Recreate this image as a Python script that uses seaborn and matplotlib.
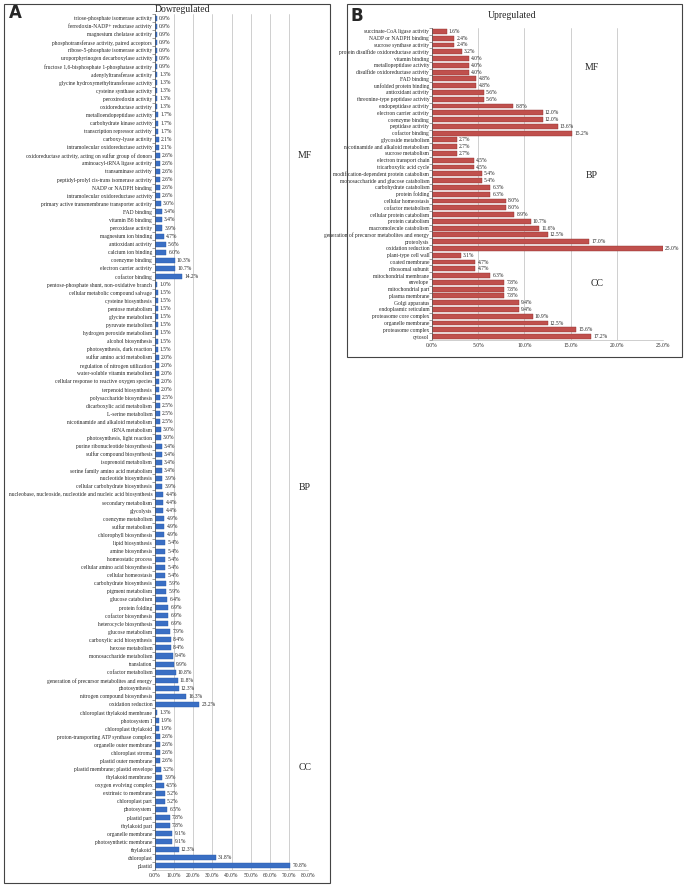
import matplotlib
matplotlib.use("Agg")
import matplotlib.pyplot as plt
import seaborn as sns
import pandas as pd
import numpy as np
from matplotlib.patches import Rectangle
from matplotlib.ticker import FixedLocator

# ---------------- Data: Panel A (Downregulated) ----------------
down_mf_terms = [
    "triose-phosphate isomerase activity", "ferredoxin-NADP+ reductase activity",
    "magnesium chelatase activity", "phosphotransferase activity, paired acceptors",
    "ribose-5-phosphate isomerase activity", "uroporphyrinogen decarboxylase activity",
    "fructose 1,6-bisphosphate 1-phosphatase activity", "adenylyltransferase activity",
    "glycine hydroxymethyltransferase activity", "cysteine synthase activity",
    "peroxiredoxin activity", "oxidoreductase activity", "metalloendopeptidase activity",
    "carbohydrate kinase activity", "transcription repressor activity", "carboxy-lyase activity",
    "intramolecular oxidoreductase activity",
    "oxidoreductase activity, acting on sulfur group of donors", "aminoacyl-tRNA ligase activity",
    "transaminase activity", "peptidyl-prolyl cis-trans isomerase activity",
    "NADP or NADPH binding", "intramolecular oxidoreductase activity",
    "primary active transmembrane transporter activity", "FAD binding", "vitamin B6 binding",
    "peroxidase activity", "magnesium ion binding", "antioxidant activity",
    "calcium ion binding", "coenzyme binding", "electron carrier activity", "cofactor binding",
]
down_mf_vals = [0.9, 0.9, 0.9, 0.9, 0.9, 0.9, 0.9, 1.3, 1.3, 1.3, 1.3, 1.3, 1.7, 1.7, 1.7,
                2.1, 2.1, 2.6, 2.6, 2.6, 2.6, 2.6, 2.6, 3.0, 3.4, 3.4, 3.9, 4.7, 5.6, 6.0,
                10.3, 10.7, 14.2]

down_bp_terms = [
    "pentose-phosphate shunt, non-oxidative branch", "cellular metabolic compound salvage",
    "cysteine biosynthesis", "pentose metabolism", "glycine metabolism", "pyruvate metabolism",
    "hydrogen peroxide metabolism", "alcohol biosynthesis", "photosynthesis, dark reaction",
    "sulfur amino acid metabolism", "regulation of nitrogen utilization",
    "water-soluble vitamin metabolism", "cellular response to reactive oxygen species",
    "terpenoid biosynthesis", "polysaccharide biosynthesis", "dicarboxylic acid metabolism",
    "L-serine metabolism", "nicotinamide and alkaloid metabolism", "tRNA metabolism",
    "photosynthesis, light reaction", "purine ribonucleotide biosynthesis",
    "sulfur compound biosynthesis", "isoprenoid metabolism",
    "serine family amino acid metabolism", "nucleotide biosynthesis",
    "cellular carbohydrate biosynthesis",
    "nucleobase, nucleoside, nucleotide and nucleic acid biosynthesis",
    "secondary metabolism", "glycolysis", "coenzyme metabolism", "sulfur metabolism",
    "chlorophyll biosynthesis", "lipid biosynthesis", "amine biosynthesis",
    "homeostatic process", "cellular amino acid biosynthesis", "cellular homeostasis",
    "carbohydrate biosynthesis", "pigment metabolism", "glucose catabolism", "protein folding",
    "cofactor biosynthesis", "heterocycle biosynthesis", "glucose metabolism",
    "carboxylic acid biosynthesis", "hexose metabolism", "monosaccharide metabolism",
    "translation", "cofactor metabolism", "generation of precursor metabolites and energy",
    "photosynthesis", "nitrogen compound biosynthesis", "oxidation reduction",
]
down_bp_vals = [1.0, 1.5, 1.5, 1.5, 1.5, 1.5, 1.5, 1.5, 1.5, 2.0, 2.0, 2.0, 2.0, 2.0,
                2.5, 2.5, 2.5, 2.5, 3.0, 3.0, 3.4, 3.4, 3.4, 3.4, 3.9, 3.9, 4.4, 4.4, 4.4,
                4.9, 4.9, 4.9, 5.4, 5.4, 5.4, 5.4, 5.4, 5.9, 5.9, 6.4, 6.9, 6.9, 6.9, 7.9,
                8.4, 8.4, 9.4, 9.9, 10.8, 11.8, 12.3, 16.3, 23.2]

down_cc_terms = [
    "chloroplast thylakoid membrane", "photosystem I", "chloroplast thylakoid",
    "proton-transporting ATP synthase complex", "organelle outer membrane",
    "chloroplast stroma", "plastid outer membrane", "plastid membrane; plastid envelope",
    "thylakoid membrane", "oxygen evolving complex", "extrinsic to membrane",
    "chloroplast part", "photosystem", "plastid part", "thylakoid part",
    "organelle membrane", "photosynthetic membrane", "thylakoid", "chloroplast", "plastid",
]
down_cc_vals = [1.3, 1.9, 1.9, 2.6, 2.6, 2.6, 2.6, 3.2, 3.9, 4.5, 5.2, 5.2, 6.5, 7.8, 7.8,
                9.1, 9.1, 12.3, 31.8, 70.8]

# ---------------- Data: Panel B (Upregulated) ----------------
up_mf_terms = [
    "succinate-CoA ligase activity", "NADP or NADPH binding", "sucrose synthase activity",
    "protein disulfide oxidoreductase activity", "vitamin binding",
    "metallopeptidase activity", "disulfide oxidoreductase activity", "FAD binding",
    "unfolded protein binding", "antioxidant activity", "threonine-type peptidase activity",
    "endopeptidase activity", "electron carrier activity", "coenzyme binding",
    "peptidase activity", "cofactor binding",
]
up_mf_vals = [1.6, 2.4, 2.4, 3.2, 4.0, 4.0, 4.0, 4.8, 4.8, 5.6, 5.6, 8.8, 12.0, 12.0, 13.6, 15.2]

up_bp_terms = [
    "glycoside metabolism", "nicotinamide and alkaloid metabolism", "sucrose metabolism",
    "electron transport chain", "tricarboxylic acid cycle",
    "modification-dependent protein catabolism", "monosaccharide and glucose catabolism",
    "carbohydrate catabolism", "protein folding", "cellular homeostasis",
    "cofactor metabolism", "cellular protein catabolism", "protein catabolism",
    "macromolecule catabolism", "generation of precursor metabolites and energy",
    "proteolysis", "oxidation reduction",
]
up_bp_vals = [2.7, 2.7, 2.7, 4.5, 4.5, 5.4, 5.4, 6.3, 6.3, 8.0, 8.0, 8.9, 10.7, 11.6, 12.5,
              17.0, 25.0]

up_cc_terms = [
    "plant-type cell wall", "coated membrane", "ribosomal subunit", "mitochondrial membrane",
    "envelope", "mitochondrial part", "plasma membrane", "Golgi apparatus",
    "endoplasmic reticulum", "proteasome core complex", "organelle membrane",
    "proteasome complex", "cytosol",
]
up_cc_vals = [3.1, 4.7, 4.7, 6.3, 7.8, 7.8, 7.8, 9.4, 9.4, 10.9, 12.5, 15.6, 17.2]

down_xticks = [0, 10, 20, 30, 40, 50, 60, 70, 80]
up_xticks = [0, 5, 10, 15, 20, 25]

# ---------------- Styling ----------------
sns.set_theme(style="white")
plt.rcParams["font.family"] = ["Liberation Serif", "DejaVu Serif"]

W, H = 685, 890
fig = plt.figure(figsize=(W / 100, H / 100), dpi=100)


def fx(px):
    return px / W


def fy(py):
    return 1 - py / H


def make_df(term_lists, val_lists):
    terms = sum(term_lists, [])
    vals = sum(val_lists, [])
    return pd.DataFrame({"id": [f"r{i:03d}" for i in range(len(terms))],
                         "term": terms, "value": vals})


def draw_panel(ax, df, color, edge, xmax, xticks, fs, bar_h):
    sns.barplot(data=df, y="id", x="value", orient="h", ax=ax, color=color,
                edgecolor=edge, linewidth=0.3, width=bar_h, saturation=1)
    ax.set_xlim(0, xmax)
    ax.set_ylabel("")
    ax.set_xlabel("")
    ax.set_yticks(range(len(df)))
    ax.set_yticklabels(df["term"], fontsize=fs)
    ax.set_xticks(xticks)
    ax.set_xticklabels([f"{t:.1f}%" for t in xticks], fontsize=fs)
    ax.tick_params(axis="y", length=0, pad=2)
    ax.tick_params(axis="x", length=0, pad=2)
    ax.yaxis.set_minor_locator(FixedLocator(np.arange(-0.5, len(df), 1.0)))
    ax.tick_params(axis="y", which="minor", length=2, width=0.4, color="#555555", left=True)
    ax.grid(axis="x", color="#c8c8c8", linewidth=0.6)
    ax.set_axisbelow(True)
    for s in ["top", "right"]:
        ax.spines[s].set_visible(False)
    ax.spines["left"].set_color("#555555")
    ax.spines["left"].set_linewidth(0.5)
    ax.spines["bottom"].set_color("#bbbbbb")
    ax.spines["bottom"].set_linewidth(0.5)
    labels = [f"{v:.1f}%" for v in df["value"]]
    ax.bar_label(ax.containers[0], labels=labels, fontsize=fs, padding=1.5)
    ax.set_ylim(len(df) - 0.5, -0.5)


# Panel A
dfA = make_df([down_mf_terms, down_bp_terms, down_cc_terms],
              [down_mf_vals, down_bp_vals, down_cc_vals])
axA = fig.add_axes([fx(155), fy(870), fx(308 - 155), fy(14) - fy(870)])
draw_panel(axA, dfA, "#3a6fc4", "#2a5aa8", 80, down_xticks, 4.0, 0.62)

# Panel B
dfB = make_df([up_mf_terms, up_bp_terms, up_cc_terms],
              [up_mf_vals, up_bp_vals, up_cc_vals])
axB = fig.add_axes([fx(432), fy(340), fx(663 - 432), fy(28) - fy(340)])
draw_panel(axB, dfB, "#c0504d", "#8c2f2c", 25, up_xticks, 4.0, 0.72)

# Panel frames
fig.patches.append(Rectangle((fx(4), fy(883)), fx(330 - 4), fy(4) - fy(883),
                             transform=fig.transFigure, fill=False,
                             edgecolor="#444444", linewidth=0.8))
fig.patches.append(Rectangle((fx(347), fy(357)), fx(682 - 347), fy(4) - fy(357),
                             transform=fig.transFigure, fill=False,
                             edgecolor="#444444", linewidth=0.8))

# Titles
fig.text(fx(9), fy(13), "A", fontsize=12, fontweight="bold", family="DejaVu Sans",
         va="center", ha="left")
fig.text(fx(182), fy(9), "Dowregulated", fontsize=7, va="center", ha="center")
fig.text(fx(351), fy(16), "B", fontsize=12, fontweight="bold", family="DejaVu Sans",
         va="center", ha="left")
fig.text(fx(512), fy(15), "Upregulated", fontsize=7, va="center", ha="center")

# Section labels
fig.text(fx(305), fy(155), "MF", fontsize=7, ha="center", va="center")
fig.text(fx(305), fy(488), "BP", fontsize=7, ha="center", va="center")
fig.text(fx(305), fy(768), "CC", fontsize=7, ha="center", va="center")
fig.text(fx(592), fy(68), "MF", fontsize=7, ha="center", va="center")
fig.text(fx(592), fy(176), "BP", fontsize=7, ha="center", va="center")
fig.text(fx(597), fy(283), "CC", fontsize=7, ha="center", va="center")

fig.savefig("out.png", dpi=100)
